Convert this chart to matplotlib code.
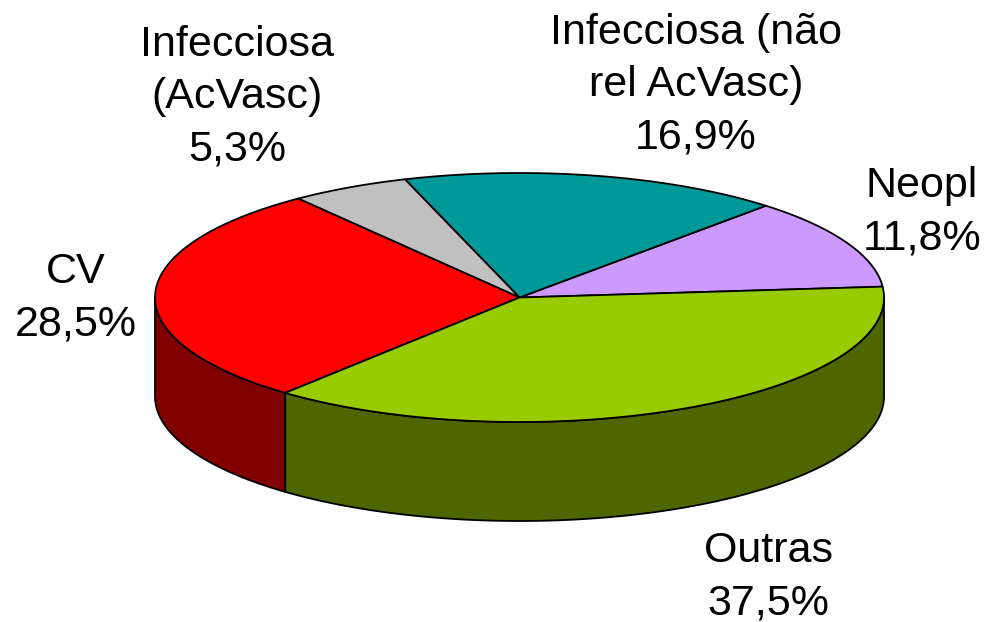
import numpy as np
import matplotlib
matplotlib.use('Agg')
import matplotlib.pyplot as plt
from matplotlib.patches import Polygon

labels = ['Neopl\n11,8%', 'Infecciosa (não\nrel AcVasc)\n16,9%', 'Infecciosa\n(AcVasc)\n5,3%', 'CV\n28,5%', 'Outras\n37,5%']
values = [11.8, 16.9, 5.3, 28.5, 37.5]
top_colors = ['#CC99FF', '#009999', '#C0C0C0', '#FF0000', '#99CC00']
side_colors = ['#66507F', '#004C4C', '#606060', '#800000', '#4D6600']
label_pos = [(922, 212), (696, 85), (237, 97), (76, 298), (768, 577)]

# pie geometry in pixels
cx, cy = 519.5, 297.5
a, b = 364.5, 124.5
depth = 99
start = 5.0

plt.rcParams['font.family'] = ['Liberation Sans', 'DejaVu Sans']

fig = plt.figure(figsize=(9.88, 6.22), dpi=100)
ax = fig.add_axes([0, 0, 1, 1])
ax.set_xlim(0, 988)
ax.set_ylim(622, 0)
ax.axis('off')


def rim(t0, t1, dy=0):
    t = np.radians(np.linspace(t0, t1, 200))
    return np.column_stack([cx + a * np.cos(t), cy + dy - b * np.sin(t)])


angles = start + np.concatenate([[0], np.cumsum(values)]) * 360 / sum(values)

# side wall, only the front half shows
for i in range(len(values)):
    t0 = max(angles[i], 180)
    t1 = min(angles[i + 1], 360)
    if t1 <= t0:
        continue
    pts = np.vstack([rim(t0, t1), rim(t1, t0, depth)])
    ax.add_patch(Polygon(pts, closed=True, fc=side_colors[i], ec='black', lw=1.3, joinstyle='round'))

# top face
for i in range(len(values)):
    pts = np.vstack([[[cx, cy]], rim(angles[i], angles[i + 1])])
    ax.add_patch(Polygon(pts, closed=True, fc=top_colors[i], ec='black', lw=1.3, joinstyle='round'))

for lab, (x, y) in zip(labels, label_pos):
    ax.text(x, y, lab, fontsize=31, ha='center', va='center', linespacing=1.39, color='black')

fig.savefig('out.png', dpi=100)
